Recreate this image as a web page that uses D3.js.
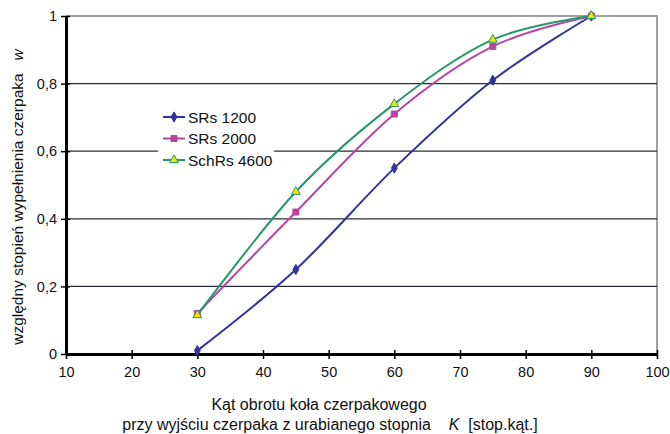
<!DOCTYPE html>
<html lang="pl">
<head>
<meta charset="utf-8">
<title>Stopień wypełnienia czerpaka</title>
<script src="https://cdn.jsdelivr.net/npm/d3@7"></script>
<style>
body { margin: 0; background: #fff; }
text { font-family: "Liberation Sans", Arial, sans-serif; fill: #111; white-space: pre; }
</style>
</head>
<body>
<script>
var angles = [30, 45, 60, 75, 90];
var srs1200 = [0.01, 0.25, 0.55, 0.81, 1.0];
var srs2000 = [0.12, 0.42, 0.71, 0.91, 1.0];
var schrs4600 = [0.115, 0.48, 0.74, 0.93, 1.0];
var seriesNames = ["SRs 1200", "SRs 2000", "SchRs 4600"];
var xTicks = [10, 20, 30, 40, 50, 60, 70, 80, 90, 100];
var yTicks = [0, 0.2, 0.4, 0.6, 0.8, 1];

var W = 670, H = 434;
var m = {left: 66, right: 13, top: 16, bottom: 80};

var svg = d3.select("body").append("svg").attr("width", W).attr("height", H);

var x = d3.scaleLinear().domain([10, 100]).range([m.left, W - m.right]);
var y = d3.scaleLinear().domain([0, 1]).range([H - m.bottom, m.top]);

// plot frame (top and right are grey)
svg.append("path")
  .attr("d", "M" + x(10) + "," + y(1) + "H" + x(100) + "V" + y(0))
  .attr("fill", "none").attr("stroke", "#a0a0a0").attr("stroke-width", 2);

// gridlines
svg.selectAll(".grid").data(yTicks.filter(function(d) { return d > 0 && d < 1; }))
  .enter().append("line")
  .attr("x1", x(10)).attr("x2", x(100))
  .attr("y1", function(d) { return y(d); }).attr("y2", function(d) { return y(d); })
  .attr("stroke", "#2a2a3a").attr("stroke-width", 1.2);

var fmt = function(d) { return String(d).replace(".", ","); };

var xAxis = svg.append("g").attr("transform", "translate(0," + y(0) + ")")
  .call(d3.axisBottom(x).tickValues(xTicks).tickSize(5).tickSizeOuter(0).tickFormat(d3.format("d")));
var yAxis = svg.append("g").attr("transform", "translate(" + x(10) + ",0)")
  .call(d3.axisLeft(y).tickValues(yTicks).tickSize(5).tickSizeOuter(0).tickFormat(fmt));

[xAxis, yAxis].forEach(function(a) {
  a.select(".domain").attr("stroke", "#000").attr("stroke-width", 3);
  a.selectAll(".tick line").attr("stroke", "#000").attr("stroke-width", 1.5);
  a.selectAll(".tick text").style("font-size", "14.5px").attr("fill", "#111");
});
xAxis.selectAll(".tick line").attr("y1", -4).attr("y2", 5);
xAxis.selectAll(".tick text").attr("dy", "1.0em");
yAxis.selectAll(".tick line").attr("x1", 4);
yAxis.selectAll(".tick text").attr("x", -9);

var series = [
  {name: seriesNames[0], vals: srs1200, color: "#32329a", marker: "diamond"},
  {name: seriesNames[1], vals: srs2000, color: "#b5479f", marker: "square"},
  {name: seriesNames[2], vals: schrs4600, color: "#27966b", marker: "triangle"}
];

var line = d3.line()
  .x(function(d) { return x(d[0]); })
  .y(function(d) { return y(d[1]); })
  .curve(d3.curveCardinal.tension(0));

function drawMarker(g, type, color) {
  if (type == "diamond") {
    g.append("path").attr("d", d3.symbol(d3.symbolDiamond, 30)())
      .attr("fill", color).attr("stroke", color);
  } else if (type == "square") {
    g.append("path").attr("d", d3.symbol(d3.symbolSquare, 36)())
      .attr("fill", color).attr("stroke", color);
  } else {
    g.append("path").attr("d", d3.symbol(d3.symbolTriangle, 34)())
      .attr("fill", "#f2e500").attr("stroke", color).attr("stroke-width", 1);
  }
}

series.forEach(function(s) {
  var pts = angles.map(function(a, i) { return [a, s.vals[i]]; });
  svg.append("path").attr("d", line(pts))
    .attr("fill", "none").attr("stroke", s.color).attr("stroke-width", 2);
  pts.forEach(function(p) {
    var g = svg.append("g").attr("transform", "translate(" + x(p[0]) + "," + y(p[1]) + ")");
    drawMarker(g, s.marker, s.color);
  });
});

// legend
var lg = svg.append("g").attr("transform", "translate(158,105)");
lg.append("rect").attr("width", 116).attr("height", 68).attr("fill", "#fff");
series.forEach(function(s, i) {
  var ly = 12 + i * 21.5;
  lg.append("line").attr("x1", 5).attr("x2", 27).attr("y1", ly).attr("y2", ly)
    .attr("stroke", s.color).attr("stroke-width", 2);
  var g = lg.append("g").attr("transform", "translate(16," + ly + ")");
  drawMarker(g, s.marker, s.color);
  lg.append("text").attr("x", 30).attr("y", ly).attr("dy", "0.36em")
    .style("font-size", "15.5px").text(s.name);
});

// axis titles
var yt = svg.append("text")
  .attr("transform", "translate(23," + (y(0.5) + 12) + ") rotate(-90)")
  .attr("text-anchor", "middle").style("font-size", "15.5px");
yt.append("tspan").text("względny stopień wypełnienia czerpaka   ");
yt.append("tspan").style("font-style", "italic").text("w");

svg.append("text").attr("x", 319).attr("y", 410).attr("text-anchor", "middle")
  .style("font-size", "16px").text("Kąt obrotu koła czerpakowego");
var xt = svg.append("text").attr("x", 330).attr("y", 430).attr("text-anchor", "middle")
  .style("font-size", "16px");
xt.append("tspan").text("przy wyjściu czerpaka z urabianego stopnia    ");
xt.append("tspan").style("font-style", "italic").text("K");
xt.append("tspan").text("  [stop.kąt.]");
</script>
</body>
</html>
